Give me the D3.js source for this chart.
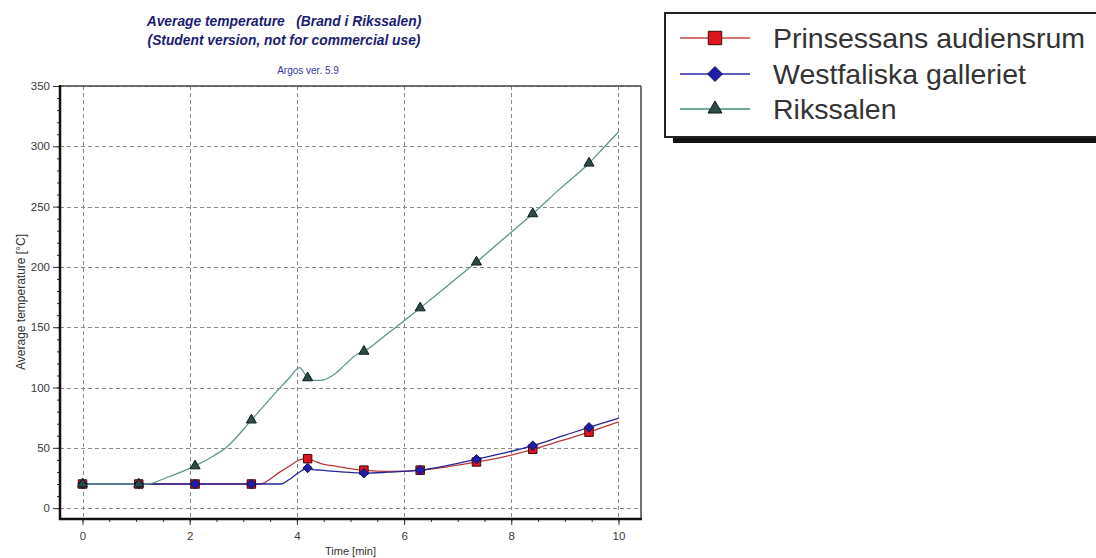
<!DOCTYPE html>
<html>
<head>
<meta charset="utf-8">
<script src="https://cdn.jsdelivr.net/npm/d3@7"></script>
<style>
  html, body { margin: 0; padding: 0; background: #fff; }
  svg { display: block; font-family: "Liberation Sans", Arial, sans-serif; }
</style>
</head>
<body>
<svg id="chart" width="1096" height="558"></svg>
<script>
// Time axis samples [min]
const times = [0, 1.05, 1.2, 1.55, 2.1, 2.45, 2.7, 3.15, 3.3, 3.7, 3.85, 4.05, 4.2, 4.3, 4.45, 4.7, 4.9, 5.1, 5.25, 5.7, 6.3, 6.8, 7.35, 7.9, 8.4, 8.9, 9.45, 9.7, 10];
// Times where symbols are drawn
const markerTimes = [0, 1.05, 2.1, 3.15, 4.2, 5.25, 6.3, 7.35, 8.4, 9.45];

// Average temperature [°C] per room
const prinsessans = [20, 20, 20, 20, 20, 20, 20, 20, 20, 30.5, 34.5, 40, 41, 39.5, 37, 35, 33.5, 32.2, 31.5, 30.5, 31.5, 34.2, 38.3, 43, 48.8, 55.5, 63, 67, 71.5];
const westfaliska = [20, 20, 20, 20, 20, 20, 20, 20, 20, 20, 23.5, 30, 33.3, 32, 31.5, 30.5, 29.8, 29.3, 29, 29.8, 31.5, 35.3, 40.5, 46, 51.8, 59, 67, 70.5, 74.5];
const rikssalen = [20, 20, 20, 25, 35, 43.5, 51, 73, 80.5, 100.5, 107.5, 116.5, 108, 106, 106, 111, 119, 127, 130, 145, 166, 184, 204, 225, 244, 264.5, 286, 297.8, 312];

const seriesNames = ["Prinsessans audiensrum", "Westfaliska galleriet", "Rikssalen"];

const xTicks = [0, 2, 4, 6, 8, 10];
const yTicks = [0, 50, 100, 150, 200, 250, 300, 350];

// Diamond drawn as a square turned by 45 degrees
const diamond = {
  draw(context, size) {
    const r = Math.sqrt(size / 2);
    context.moveTo(0, -r);
    context.lineTo(r, 0);
    context.lineTo(0, r);
    context.lineTo(-r, 0);
    context.closePath();
  }
};

const series = [
  { name: seriesNames[0], values: prinsessans, line: "#b83a3a", fill: "#e0141e", stroke: "#3a0a0a", symbol: d3.symbolSquare, size: 72, legendSize: 180 },
  { name: seriesNames[1], values: westfaliska, line: "#24249a", fill: "#1e1ea8", stroke: "#10105a", symbol: diamond, size: 45, legendSize: 110 },
  { name: seriesNames[2], values: rikssalen, line: "#5e9690", fill: "#2c4a46", stroke: "#0e1e1c", symbol: d3.symbolTriangle, size: 44, legendSize: 85 }
];

const svg = d3.select("#chart");

const plot = { left: 60, right: 641, top: 86, bottom: 519 };
const x = d3.scaleLinear().domain([-0.42, 10.42]).range([plot.left, plot.right]);
const y = d3.scaleLinear().domain([-9, 350]).range([plot.bottom, plot.top]);

// Titles
const titleColor = "#1c1c74";
svg.append("text").attr("x", 284).attr("y", 26).attr("text-anchor", "middle")
  .attr("font-size", 13.8).attr("font-weight", "bold").attr("font-style", "italic")
  .attr("fill", titleColor).attr("xml:space", "preserve")
  .text("Average temperature   (Brand i Rikssalen)");
svg.append("text").attr("x", 284).attr("y", 45).attr("text-anchor", "middle")
  .attr("font-size", 13.8).attr("font-weight", "bold").attr("font-style", "italic")
  .attr("fill", titleColor)
  .text("(Student version, not for commercial use)");
svg.append("text").attr("x", 308).attr("y", 74).attr("text-anchor", "middle")
  .attr("font-size", 10).attr("fill", "#3434a8")
  .text("Argos ver. 5.9");

// Grid
const grid = svg.append("g").attr("stroke", "#8a8a8a").attr("stroke-width", 1).attr("stroke-dasharray", "4,3");
grid.selectAll("line.v").data(xTicks).join("line")
  .attr("x1", d => Math.round(x(d)) + 0.5).attr("x2", d => Math.round(x(d)) + 0.5)
  .attr("y1", plot.top).attr("y2", plot.bottom);
grid.selectAll("line.h").data(yTicks).join("line")
  .attr("y1", d => Math.round(y(d)) + 0.5).attr("y2", d => Math.round(y(d)) + 0.5)
  .attr("x1", plot.left).attr("x2", plot.right);

// Axes
const axisColor = "#333";
const yAxis = svg.append("g").attr("transform", `translate(${plot.left},0)`)
  .call(d3.axisLeft(y).tickValues(yTicks).tickSize(7).tickPadding(3));
const yMinor = svg.append("g").attr("transform", `translate(${plot.left},0)`)
  .call(d3.axisLeft(y).tickValues(d3.range(0, 351, 10)).tickSize(3).tickFormat(""));
const xAxis = svg.append("g").attr("transform", `translate(0,${plot.bottom})`)
  .call(d3.axisBottom(x).tickValues(xTicks).tickSize(6).tickPadding(7));
const xMinor = svg.append("g").attr("transform", `translate(0,${plot.bottom})`)
  .call(d3.axisBottom(x).tickValues(d3.range(0, 10.01, 0.5)).tickSize(3).tickFormat(""));
[yAxis, yMinor, xAxis, xMinor].forEach(g => {
  g.select(".domain").remove();
  g.selectAll(".tick line").attr("stroke", axisColor);
  g.selectAll(".tick text").attr("fill", "#3a3a3a").attr("font-size", 11.5)
    .attr("font-family", "'Liberation Sans', Arial, sans-serif");
});

// Frame
svg.append("line").attr("x1", plot.left).attr("x2", plot.right).attr("y1", plot.top).attr("y2", plot.top)
  .attr("stroke", "#444").attr("stroke-width", 1.5);
svg.append("line").attr("x1", plot.right).attr("x2", plot.right).attr("y1", plot.top).attr("y2", plot.bottom)
  .attr("stroke", "#444").attr("stroke-width", 1.5);
svg.append("line").attr("x1", plot.left).attr("x2", plot.left).attr("y1", plot.top - 1).attr("y2", plot.bottom + 1)
  .attr("stroke", "#111").attr("stroke-width", 2.5);
svg.append("line").attr("x1", plot.left - 1).attr("x2", plot.right + 1).attr("y1", plot.bottom).attr("y2", plot.bottom)
  .attr("stroke", "#111").attr("stroke-width", 2.5);

// Axis titles
svg.append("text").attr("x", (plot.left + plot.right) / 2).attr("y", 555).attr("text-anchor", "middle")
  .attr("font-size", 11).attr("fill", "#333").text("Time [min]");
svg.append("text").attr("transform", "translate(25,302) rotate(-90)").attr("text-anchor", "middle")
  .attr("font-size", 12).attr("fill", "#333").text("Average temperature [°C]");

// Series lines and symbols
const line = d3.line().x((d, i) => x(times[i])).y(d => y(d)).curve(d3.curveMonotoneX);
series.forEach(s => {
  svg.append("path").datum(s.values).attr("d", line)
    .attr("fill", "none").attr("stroke", s.line).attr("stroke-width", 1.3);
});
series.forEach(s => {
  const pts = times.map((t, i) => ({ t, v: s.values[i] })).filter(p => markerTimes.includes(p.t));
  svg.append("g").selectAll("path").data(pts).join("path")
    .attr("transform", p => `translate(${x(p.t)},${y(p.v)})`)
    .attr("d", d3.symbol().type(s.symbol).size(s.size))
    .attr("fill", s.fill).attr("stroke", s.stroke).attr("stroke-width", 1);
});

// Legend
const lg = svg.append("g");
lg.append("rect").attr("x", 673).attr("y", 20).attr("width", 460).attr("height", 123).attr("fill", "#111");
lg.append("rect").attr("x", 665).attr("y", 13).attr("width", 460).attr("height", 124)
  .attr("fill", "#fff").attr("stroke", "#222").attr("stroke-width", 2);
const rowY = [38, 74, 109];
const legendLine = ["#c04848", "#2a2aa4", "#3f8f7a"];
series.forEach((s, i) => {
  lg.append("line").attr("x1", 680).attr("x2", 750).attr("y1", rowY[i]).attr("y2", rowY[i])
    .attr("stroke", legendLine[i]).attr("stroke-width", 1.6);
  lg.append("path").attr("transform", `translate(715,${rowY[i]})`)
    .attr("d", d3.symbol().type(s.symbol).size(s.legendSize))
    .attr("fill", s.fill).attr("stroke", s.stroke).attr("stroke-width", 1);
  lg.append("text").attr("x", 773).attr("y", rowY[i] + 9.5)
    .attr("font-size", 28.5).attr("fill", "#333").text(s.name);
});
</script>
</body>
</html>
